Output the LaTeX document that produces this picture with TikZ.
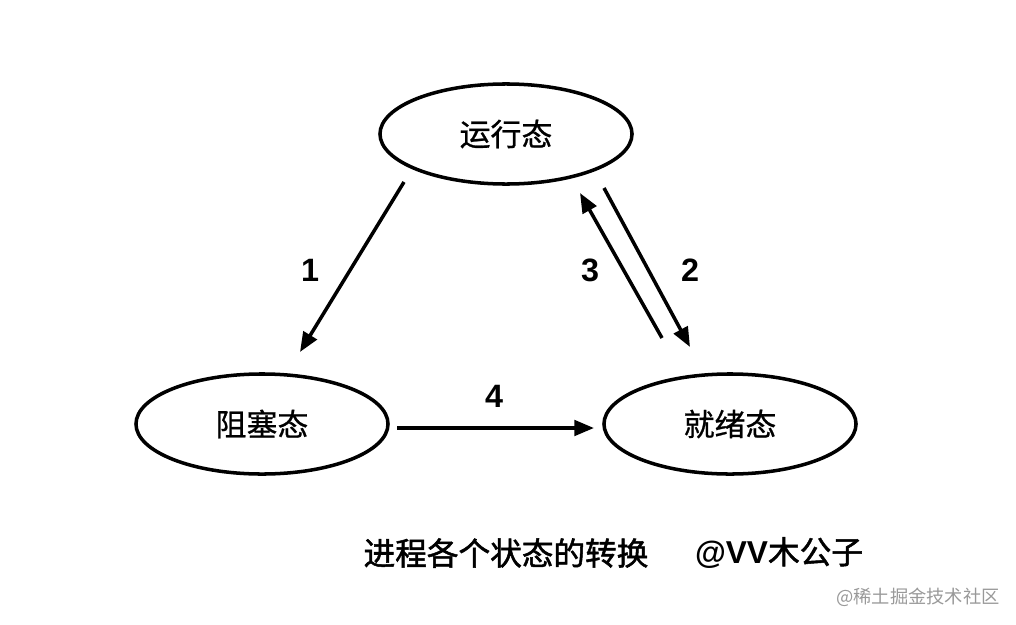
\documentclass[tikz,border=0pt]{standalone}
\usepackage{fontspec}
\setmainfont{Noto Sans CJK SC}
\newfontfamily\numfont{Liberation Sans}
\newfontfamily\midfont[FakeBold=0.8]{Noto Sans CJK SC}
\newfontfamily\capfont[FakeBold=1.6]{Noto Sans CJK SC}
\usetikzlibrary{arrows.meta,shapes.geometric}

\tikzset{
  state/.style={ellipse, draw, line width=2.5pt, minimum width=6.3cm,
    minimum height=2.5cm, font=\midfont\fontsize{22}{24}\selectfont},
  num/.style={font=\numfont\bfseries\fontsize{23}{25}\selectfont},
  trans/.style={-{Triangle[length=14pt,width=11pt]}, line width=2.5pt}
}

\begin{document}
\begin{tikzpicture}[x=0.025cm, y=-0.025cm]
  \useasboundingbox (0,0) rectangle (1016,624);
  % States
  \node[state] (run) at (506,134) {运行态};
  \node[state] (block) at (262,424) {阻塞态};
  \node[state] (ready) at (730,424) {就绪态};
  % Arrow ends
  \coordinate (a1s) at (404,182);
  \coordinate (a1e) at (300,352);
  \coordinate (a2s) at (604,188);
  \coordinate (a2e) at (690,347);
  \coordinate (a3s) at (662,338);
  \coordinate (a3e) at (580,193);
  \coordinate (a4s) at (397,428);
  \coordinate (a4e) at (594,428);
  % Transitions
  \draw[trans] (a1s) -- (a1e);
  \draw[trans] (a2s) -- (a2e);
  \draw[trans] (a3s) -- (a3e);
  \draw[trans] (a4s) -- (a4e);
  % Labels
  \node[num] (n1) at (310,270) {1};
  \node[num] (n2) at (690,270) {2};
  \node[num] (n3) at (590,270) {3};
  \node[num] (n4) at (494,396) {4};
  % Caption
  \node[font=\capfont\fontsize{22.5}{24}\selectfont] (cap) at (506,553)
    {进程各个状态的转换};
  \node[font=\capfont\fontsize{22.5}{24}\selectfont] (auth) at (779,553)
    {{\numfont\bfseries @VV}木公子};
  \node[text=black!40, font=\fontsize{13}{15}\selectfont] (mark) at (918,597)
    {@稀土掘金技术社区};
\end{tikzpicture}
\end{document}
